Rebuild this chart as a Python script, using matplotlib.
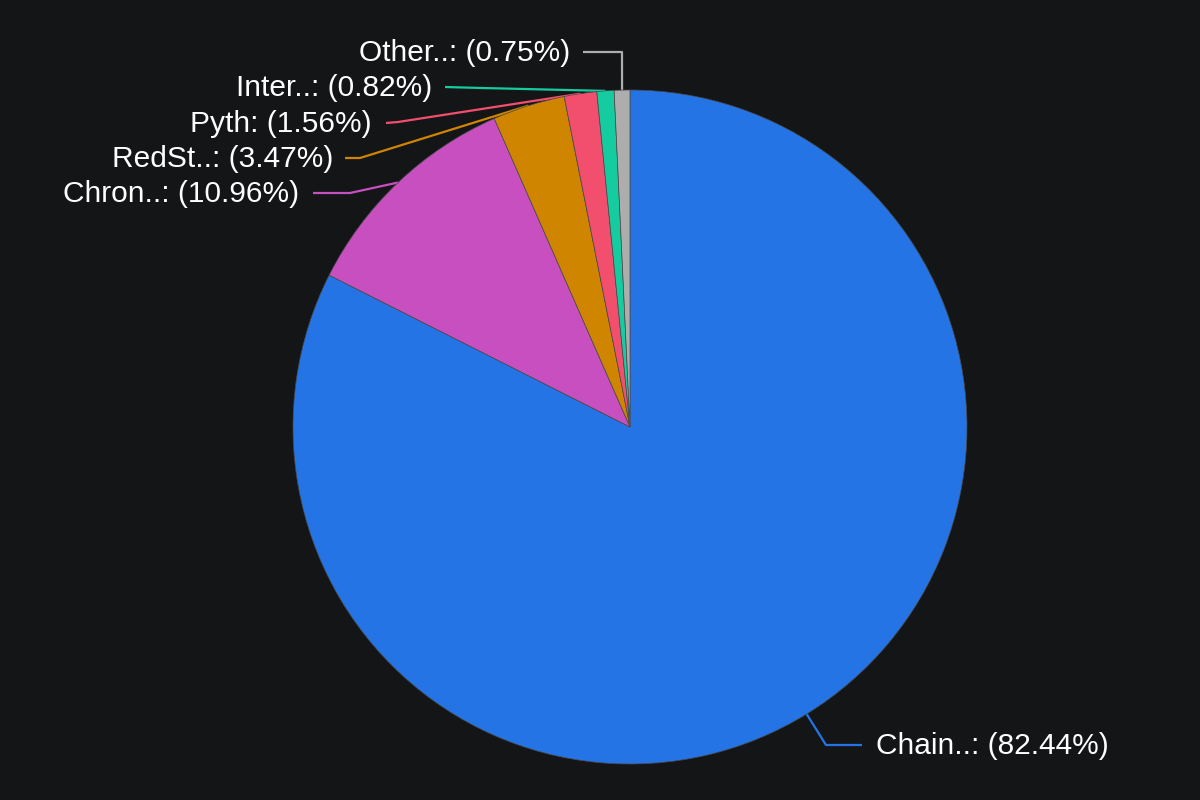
import numpy as np
import matplotlib.pyplot as plt

plt.rcParams['font.family'] = ['Liberation Sans', 'DejaVu Sans']

labels = ["Chain..", "Chron..", "RedSt..", "Pyth", "Inter..", "Other.."]
shares = [82.44, 10.96, 3.47, 1.56, 0.82, 0.75]
colors = ["#2474e5", "#c84fc0", "#d08500", "#f24e6e", "#15cca0", "#adadad"]

# layout in pixels (y from top): elbow point, line end, text anchor
elbow = [(826, 745), (350, 193), (360, 158), (398, 122), (482, 88), (622, 52)]
line_end = [(862, 745), (313, 193), (345, 158), (386, 123), (445, 87), (583, 52)]
text_pos = [(876, 746), (299, 194), (333, 159), (372, 124), (432, 88), (570, 53)]
text_ha = ["left", "right", "right", "right", "right", "right"]

W, H = 1200, 800
cx, cy, r = 630, 427, 337
bg = "#141517"

fig = plt.figure(figsize=(12, 8), dpi=100, facecolor=bg)
ax = fig.add_axes([0, 0, 1, 1])
ax.set_facecolor(bg)

wedges, _ = ax.pie(shares, colors=colors, startangle=90, counterclock=False,
                   center=(cx, H - cy), radius=r, frame=True,
                   wedgeprops=dict(edgecolor="#4a4a4a", linewidth=0.5, zorder=3))
ax.set_xlim(0, W)
ax.set_ylim(0, H)
ax.set_aspect("equal")
ax.axis("off")

for i, w in enumerate(wedges):
    mid = np.deg2rad((w.theta1 + w.theta2) / 2)
    x0 = cx + r * np.cos(mid)
    y0 = (H - cy) + r * np.sin(mid)
    xs = [x0, elbow[i][0], line_end[i][0]]
    ys = [y0, H - elbow[i][1], H - line_end[i][1]]
    ax.plot(xs, ys, color=colors[i], lw=1.6, zorder=1, solid_capstyle="butt")
    ax.text(text_pos[i][0], H - text_pos[i][1], f"{labels[i]}: ({shares[i]:.2f}%)",
            ha=text_ha[i], va="center", color="white", fontsize=21.5)

fig.savefig("out.png", dpi=100, facecolor=bg)
